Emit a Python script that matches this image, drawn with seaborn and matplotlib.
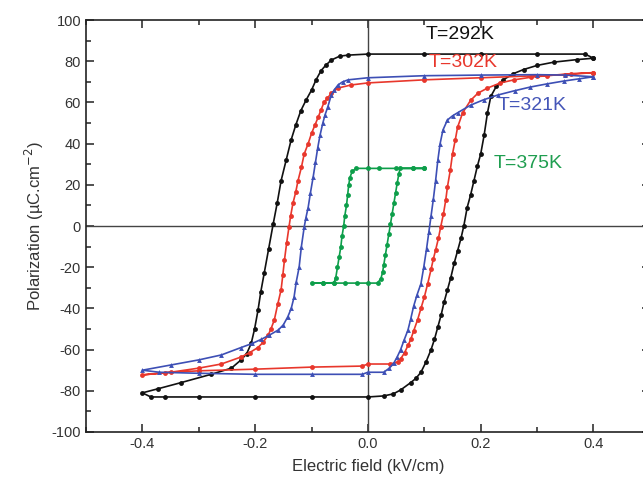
import numpy as np
import pandas as pd
import seaborn as sns
import matplotlib
matplotlib.use('Agg')
import matplotlib.pyplot as plt
from matplotlib.ticker import MultipleLocator

# hysteresis loops (E in kV/cm, P in uC/cm2)
# each loop: upper branch (+0.4 -> -0.4) then lower branch (-0.4 -> +0.4)
e_292 = [0.40, 0.385, 0.30, 0.20, 0.10, 0.0, -0.035, -0.05, -0.065, -0.075, -0.083, -0.092, -0.10, -0.11,
         -0.119, -0.128, -0.136, -0.145, -0.154, -0.161, -0.168, -0.176, -0.184, -0.19, -0.195, -0.201,
         -0.207, -0.215, -0.225, -0.242, -0.278, -0.331, -0.372, -0.40,
         -0.385, -0.36, -0.30, -0.20, -0.10, 0.0, 0.028, 0.045, 0.058, 0.076, 0.085, 0.094, 0.103, 0.112,
         0.118, 0.124, 0.13, 0.135, 0.141, 0.147, 0.153, 0.159, 0.165, 0.170, 0.176, 0.182, 0.188, 0.194,
         0.20, 0.206, 0.212, 0.218, 0.228, 0.24, 0.258, 0.276, 0.30, 0.33, 0.37, 0.40]
p_292 = [81.5, 83.5, 83.5, 83.5, 83.5, 83.5, 83, 82.5, 80.6, 78, 75.5, 71, 66, 61,
         56, 49, 42, 32, 22, 11, 1, -11, -23, -32, -41, -50,
         -57, -62, -65, -69, -72, -76, -79, -81,
         -83, -83, -83, -83, -83, -83, -82.5, -81.5, -79.6, -76, -74, -71, -66, -60,
         -55, -49, -43, -37, -31, -25, -18, -12, -6, 0, 9, 15, 22, 29,
         35, 44, 55, 63, 68, 71, 74, 76, 78, 79.6, 80.8, 81.5]

e_302 = [0.40, 0.35, 0.30, 0.20, 0.10, 0.0, -0.03, -0.053, -0.065, -0.072, -0.078, -0.083, -0.088, -0.094,
         -0.10, -0.106, -0.113, -0.118, -0.124, -0.128, -0.133, -0.137, -0.14, -0.144, -0.148, -0.151,
         -0.154, -0.16, -0.166, -0.172, -0.177, -0.186, -0.195, -0.21, -0.225, -0.26, -0.30, -0.35, -0.40,
         -0.36, -0.30, -0.20, -0.10, -0.01, 0.0, 0.04, 0.053, 0.058, 0.065, 0.071, 0.076, 0.081, 0.088,
         0.094, 0.10, 0.106, 0.112, 0.116, 0.12, 0.125, 0.129, 0.134, 0.138, 0.141, 0.146, 0.150, 0.155,
         0.159, 0.168, 0.182, 0.195, 0.212, 0.235, 0.259, 0.29, 0.318, 0.36, 0.40]
p_302 = [74.5, 73.5, 73, 72, 71, 69.5, 68.5, 67, 64.5, 62, 60, 56.5, 53, 49,
         45, 40, 35, 28.5, 22, 16.5, 11, 5, -0.5, -8, -16.5, -24,
         -31, -38, -45.6, -50, -53, -56.5, -59, -61.5, -63.6, -67, -69, -71, -72.3,
         -71.2, -70.3, -69.5, -68.5, -68, -67, -67, -66, -64.5, -61.5, -58, -55, -51, -45.6,
         -40, -34.5, -28, -21, -16, -11.7, -6, -0.5, 6, 12.6, 19, 27, 35, 42,
         48, 55, 61, 64.5, 67, 69.5, 71, 72.3, 73, 74, 74.5]

e_321 = [0.40, 0.35, 0.30, 0.20, 0.10, 0.0, -0.035, -0.045, -0.053, -0.06, -0.065, -0.071, -0.076, -0.08,
         -0.085, -0.089, -0.093, -0.097, -0.102, -0.106, -0.11, -0.113, -0.118, -0.122, -0.127, -0.131,
         -0.136, -0.142, -0.15, -0.159, -0.175, -0.189, -0.205, -0.225, -0.26, -0.30, -0.35, -0.40,
         -0.37, -0.30, -0.20, -0.10, -0.01, 0.0, 0.028, 0.038, 0.046, 0.052, 0.058, 0.064, 0.071, 0.076,
         0.081, 0.087, 0.094, 0.099, 0.104, 0.108, 0.112, 0.116, 0.12, 0.124, 0.128, 0.133, 0.141, 0.15,
         0.159, 0.182, 0.205, 0.23, 0.26, 0.288, 0.317, 0.347, 0.375, 0.40]
p_321 = [72.5, 73.3, 73.5, 73.3, 73, 72, 71, 70, 68.5, 66, 63.6, 58, 54, 50,
         44, 38, 31, 24, 16, 9, 4, -0.5, -10, -20, -27, -34.5,
         -40, -44, -48, -50.5, -53, -55, -57, -59, -62.6, -65, -67.5, -70,
         -71, -71.5, -72, -72, -72, -71, -71, -69, -66.5, -63.5, -60, -55.5, -50.5, -45,
         -39, -33.5, -28, -20, -11, -3, 5, 13, 22, 32, 40, 46.6, 51.5, 53.5,
         55, 58.7, 61.3, 63.6, 65.7, 67.5, 69, 70.4, 71.5, 72.5]

e_375 = [0.10, 0.08, 0.05, 0.02, 0.0, -0.021, -0.028, -0.032, -0.034, -0.036, -0.038, -0.041, -0.043,
         -0.046, -0.048, -0.051, -0.054, -0.057, -0.06, -0.08, -0.10,
         -0.08, -0.06, -0.04, -0.02, 0.0, 0.017, 0.023, 0.026, 0.028, 0.031, 0.034, 0.037, 0.04,
         0.043, 0.046, 0.049, 0.052, 0.055, 0.057, 0.08, 0.10]
p_375 = [28, 28, 28, 28, 28, 28, 26.5, 23.5, 20, 15, 10, 5, 0,
         -5, -10, -15, -20, -25, -27.5, -27.7, -27.7,
         -27.7, -27.7, -27.7, -27.7, -27.7, -27.7, -25.5, -22.5, -19, -14, -9, -4, 1,
         6, 11, 16, 21, 25.5, 28, 28, 28]

loops = [('T=292K', e_292, p_292, '#111111', 'o'),
         ('T=302K', e_302, p_302, '#e8372c', 'o'),
         ('T=321K', e_321, p_321, '#3d4fb5', '^'),
         ('T=375K', e_375, p_375, '#0d9e4a', 'o')]

labels = ['T=292K', 'T=302K', 'T=321K', 'T=375K']
label_x = [0.103, 0.107, 0.23, 0.223]
label_y = [93, 79.6, 58.7, 30.6]
label_colors = ['#111111', '#e8372c', '#4556b8', '#1f9e50']

sns.set_style('ticks')
plt.rcParams['font.family'] = ['Liberation Sans', 'DejaVu Sans']
plt.rcParams['axes.unicode_minus'] = False

fig = plt.figure(figsize=(6.43, 4.88), dpi=100)
ax = fig.add_axes([0.1337, 0.1148, 0.877, 0.844])

ax.axhline(0, color='#444444', lw=1, zorder=1)
ax.axvline(0, color='#444444', lw=1, zorder=1)

for name, e, p, col, mk in loops:
    df = pd.DataFrame({'E': e, 'P': p})
    sns.lineplot(data=df, x='E', y='P', sort=False, estimator=None, color=col, lw=1.2,
                 marker=mk, markersize=3.5, markeredgewidth=0, ax=ax, zorder=3)

for t, x, y, c in zip(labels, label_x, label_y, label_colors):
    ax.text(x, y, t, color=c, fontsize=14, va='center', ha='left')

ax.set_xlim(-0.5, 0.5)
ax.set_ylim(-100, 100)
ax.set_xticks([-0.4, -0.2, 0.0, 0.2, 0.4])
ax.set_xticklabels(['-0.4', '-0.2', '0.0', '0.2', '0.4'])
ax.set_yticks(np.arange(-100, 101, 20))
ax.xaxis.set_minor_locator(MultipleLocator(0.1))
ax.yaxis.set_minor_locator(MultipleLocator(10))
ax.tick_params(which='both', direction='in', top=True, right=True, width=1.1,
               labelsize=10.5, labelcolor='#333333', color='#222222')
ax.tick_params(which='major', length=6)
ax.tick_params(which='minor', length=3.5)
for s in ax.spines.values():
    s.set_linewidth(1.2)
    s.set_color('#222222')

ax.set_xlabel('Electric field (kV/cm)', fontsize=12, color='#333333', labelpad=6)
ax.set_ylabel('Polarization (µC.cm$^{-2}$)', fontsize=12, color='#333333', labelpad=4)

fig.savefig('out.png', dpi=100)
